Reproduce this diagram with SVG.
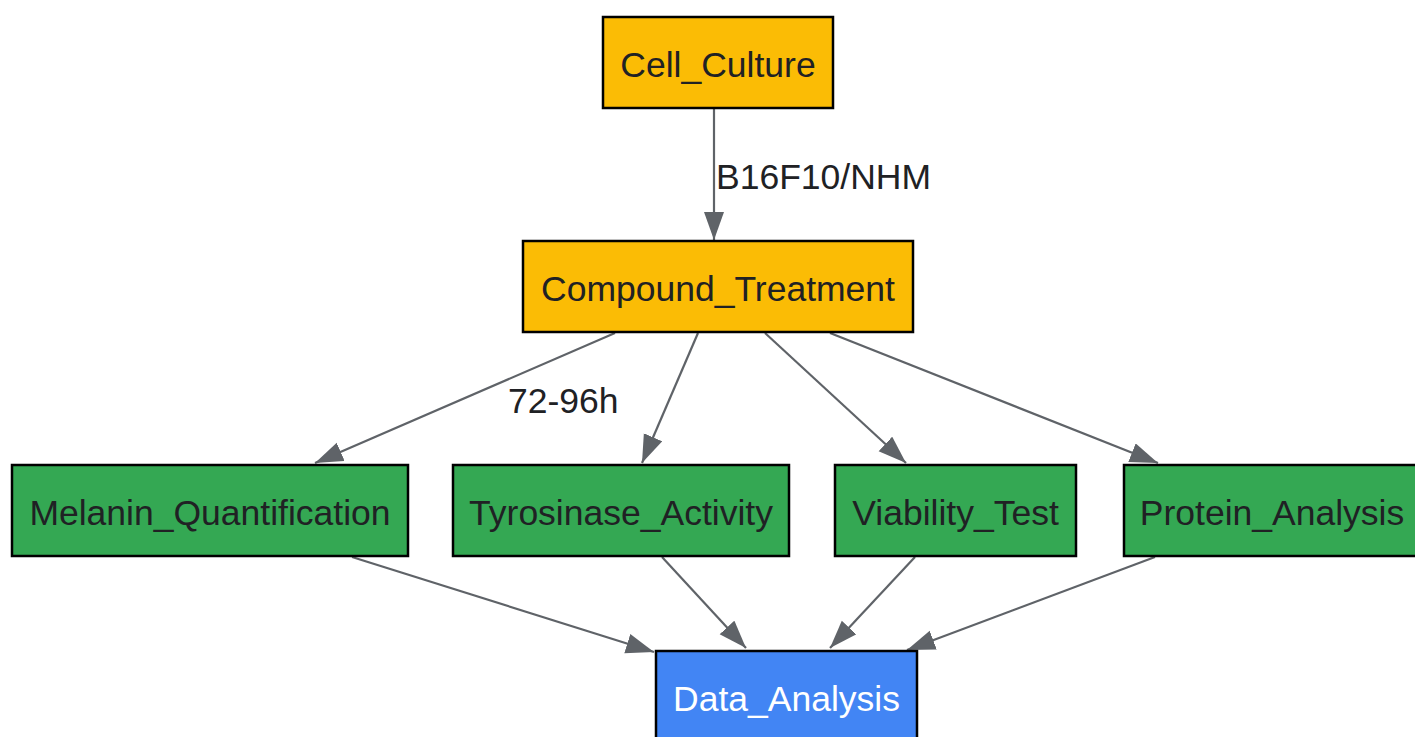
<svg xmlns="http://www.w3.org/2000/svg" width="1415" height="737" viewBox="0 0 1415 737">
<defs>
<style>
.node rect{stroke:#000;stroke-width:2.5}
.y rect{fill:#FBBC05}
.g rect{fill:#34A853}
.b rect{fill:#4285F4}
text{font-family:"Liberation Sans",Arial,sans-serif;font-size:35.5px;fill:#202124}
.node text{text-anchor:middle}
.b text{fill:#fff}
.edges line{stroke:#5f6368;stroke-width:2.2;fill:none;marker-end:url(#ah)}
</style>
<marker id="ah" markerUnits="userSpaceOnUse" markerWidth="30" markerHeight="22" refX="28" refY="10" orient="auto" viewBox="0 0 30 22">
<path d="M0,0 L28,10 L0,20 z" fill="#5f6368"/>
</marker>
</defs>
<rect width="1415" height="737" fill="#fff"/>
<g class="edges">
<line x1="714" y1="108" x2="714" y2="240"/>
<line x1="615" y1="333" x2="315" y2="463"/>
<line x1="698" y1="333" x2="642" y2="463"/>
<line x1="765" y1="333" x2="906" y2="463"/>
<line x1="830" y1="333" x2="1158" y2="463"/>
<line x1="352" y1="557" x2="654" y2="652"/>
<line x1="662" y1="557" x2="746" y2="648"/>
<line x1="915" y1="557" x2="830" y2="648"/>
<line x1="1155" y1="557" x2="907" y2="650"/>
<text x="716" y="189">B16F10/NHM</text>
<text x="508" y="413">72-96h</text>
</g>
<g id="Cell_Culture" class="node y"><rect x="603" y="17" width="230" height="91"/><text x="718" y="77">Cell_Culture</text></g>
<g id="Compound_Treatment" class="node y"><rect x="523" y="241" width="390" height="91"/><text x="718" y="301">Compound_Treatment</text></g>
<g id="Melanin_Quantification" class="node g"><rect x="12" y="465" width="396" height="91"/><text x="210" y="525">Melanin_Quantification</text></g>
<g id="Tyrosinase_Activity" class="node g"><rect x="453" y="465" width="336" height="91"/><text x="621" y="525">Tyrosinase_Activity</text></g>
<g id="Viability_Test" class="node g"><rect x="835" y="465" width="241" height="91"/><text x="955.5" y="525">Viability_Test</text></g>
<g id="Protein_Analysis" class="node g"><rect x="1124" y="465" width="296" height="91"/><text x="1272" y="525">Protein_Analysis</text></g>
<g id="Data_Analysis" class="node b"><rect x="656" y="651" width="261" height="91"/><text x="786.5" y="711">Data_Analysis</text></g>
</svg>
